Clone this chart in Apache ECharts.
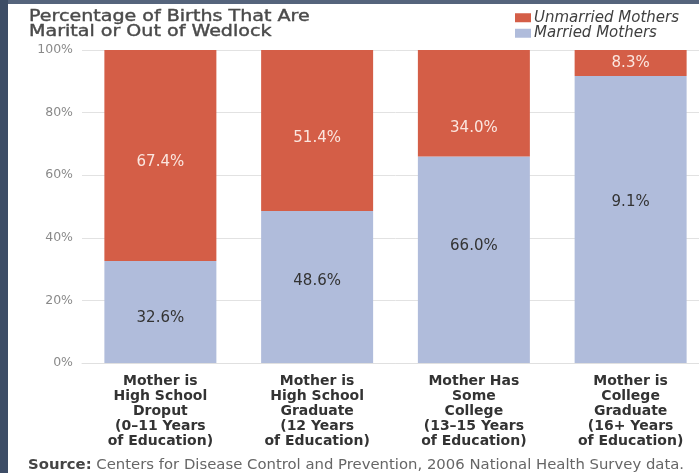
<!DOCTYPE html>
<html>
<head>
<meta charset="utf-8">
<script src="https://cdn.jsdelivr.net/npm/echarts@6/dist/echarts.min.js"></script>
<style>
  html, body { margin: 0; padding: 0; background: #ffffff; overflow: hidden; width: 699px; height: 473px; }
  #chart { width: 709px; height: 473px; }
</style>
</head>
<body>
<div id="chart"></div>
<script>
const categories = [
  'Mother is\nHigh School\nDroput\n(0\u201311 Years\nof Education)',
  'Mother is\nHigh School\nGraduate\n(12 Years\nof Education)',
  'Mother Has\nSome\nCollege\n(13\u201315 Years\nof Education)',
  'Mother is\nCollege\nGraduate\n(16+ Years\nof Education)'
];
const marriedValues = [32.6, 48.6, 66.0, 91.7];
const unmarriedValues = [67.4, 51.4, 34.0, 8.3];
const marriedLabels = ['32.6%', '48.6%', '66.0%', '9.1%'];
const unmarriedLabels = ['67.4%', '51.4%', '34.0%', '8.3%'];
const yTicks = [0, 20, 40, 60, 80, 100];
const titleText = 'Percentage of Births That Are\nMarital or Out of Wedlock';
const sourceText = '{b|Source:} Centers for Disease Control and Prevention, 2006 National Health Survey data.';

function buildOption() {
  const font = 'DejaVu Sans';
  const marriedShift = [6, -6, -14, -17];
  const unmarriedShift = [7, 8, 25, 0];
  return {
    backgroundColor: '#ffffff',
    animation: false,
    textStyle: { fontFamily: font },
    legend: {
      data: ['Unmarried Mothers', 'Married Mothers'],
      orient: 'vertical',
      left: 510, top: 5,
      itemWidth: 16, itemHeight: 9, itemGap: 0,
      icon: 'rect',
      textStyle: { fontFamily: font, fontSize: 15, fontStyle: 'italic', color: '#3f3f3f', lineHeight: 15.5, padding: [0, 0, 0, -2] }
    },
    grid: { left: 82, top: 50, bottom: 110, right: 0 },
    xAxis: {
      type: 'category',
      data: categories,
      axisLine: { show: true, lineStyle: { color: '#e0e0e0' } },
      axisTick: { show: false },
      axisLabel: {
        interval: 0, margin: 11,
        fontFamily: font, fontSize: 14, fontWeight: 'bold', color: '#333333', lineHeight: 15
      }
    },
    yAxis: {
      type: 'value', min: 0, max: 100, interval: 20,
      axisLine: { show: false },
      axisTick: { show: false },
      axisLabel: {
        margin: 9, color: '#8a8a8a', fontFamily: font, fontSize: 12.5,
        formatter: v => (yTicks.indexOf(v) >= 0 ? v + '%' : '')
      },
      splitLine: { lineStyle: { color: '#e2e2e2', width: 1 } }
    },
    series: [
      {
        name: 'Married Mothers',
        type: 'bar', stack: 'total', barWidth: 112,
        itemStyle: { color: '#b0bcdb' },
        data: marriedValues.map((v, i) => ({
          value: v,
          label: { offset: [0, marriedShift[i]] }
        })),
        label: {
          show: true, position: 'inside',
          fontFamily: font, fontSize: 15, color: '#333333',
          formatter: p => marriedLabels[p.dataIndex]
        }
      },
      {
        name: 'Unmarried Mothers',
        type: 'bar', stack: 'total', barWidth: 112,
        itemStyle: { color: '#d45e47' },
        data: unmarriedValues.map((v, i) => ({
          value: v,
          label: { offset: [0, unmarriedShift[i]] }
        })),
        label: {
          show: true, position: 'inside',
          fontFamily: font, fontSize: 15, color: '#fbe6df',
          formatter: p => unmarriedLabels[p.dataIndex]
        }
      }
    ],
    graphic: [
      {
        type: 'text', x: 29, y: 9, scaleX: 1.23, z: 50,
        style: {
          text: titleText, fill: '#4a4a4a', stroke: '#4a4a4a', lineWidth: 0.4,
          font: '15.5px "DejaVu Sans"', lineHeight: 15, verticalAlign: 'top'
        }
      },
      {
        type: 'text', x: 28, y: 458, scaleX: 1.1, z: 50,
        style: {
          text: sourceText, fill: '#666666',
          font: '13.5px "DejaVu Sans"', verticalAlign: 'top',
          rich: { b: { fontFamily: font, fontSize: 13.5, fontWeight: 'bold', fill: '#444444' } }
        }
      },
      { type: 'rect', left: 0, top: 0, shape: { width: 709, height: 4 }, style: { fill: '#55647c' }, z: 100 },
      { type: 'rect', left: 0, top: 0, shape: { width: 8, height: 473 }, style: { fill: '#3d4d66' }, z: 100 }
    ]
  };
}

const chart = echarts.init(document.getElementById('chart'), null, { renderer: 'canvas' });
chart.setOption(buildOption());
</script>
</body>
</html>
